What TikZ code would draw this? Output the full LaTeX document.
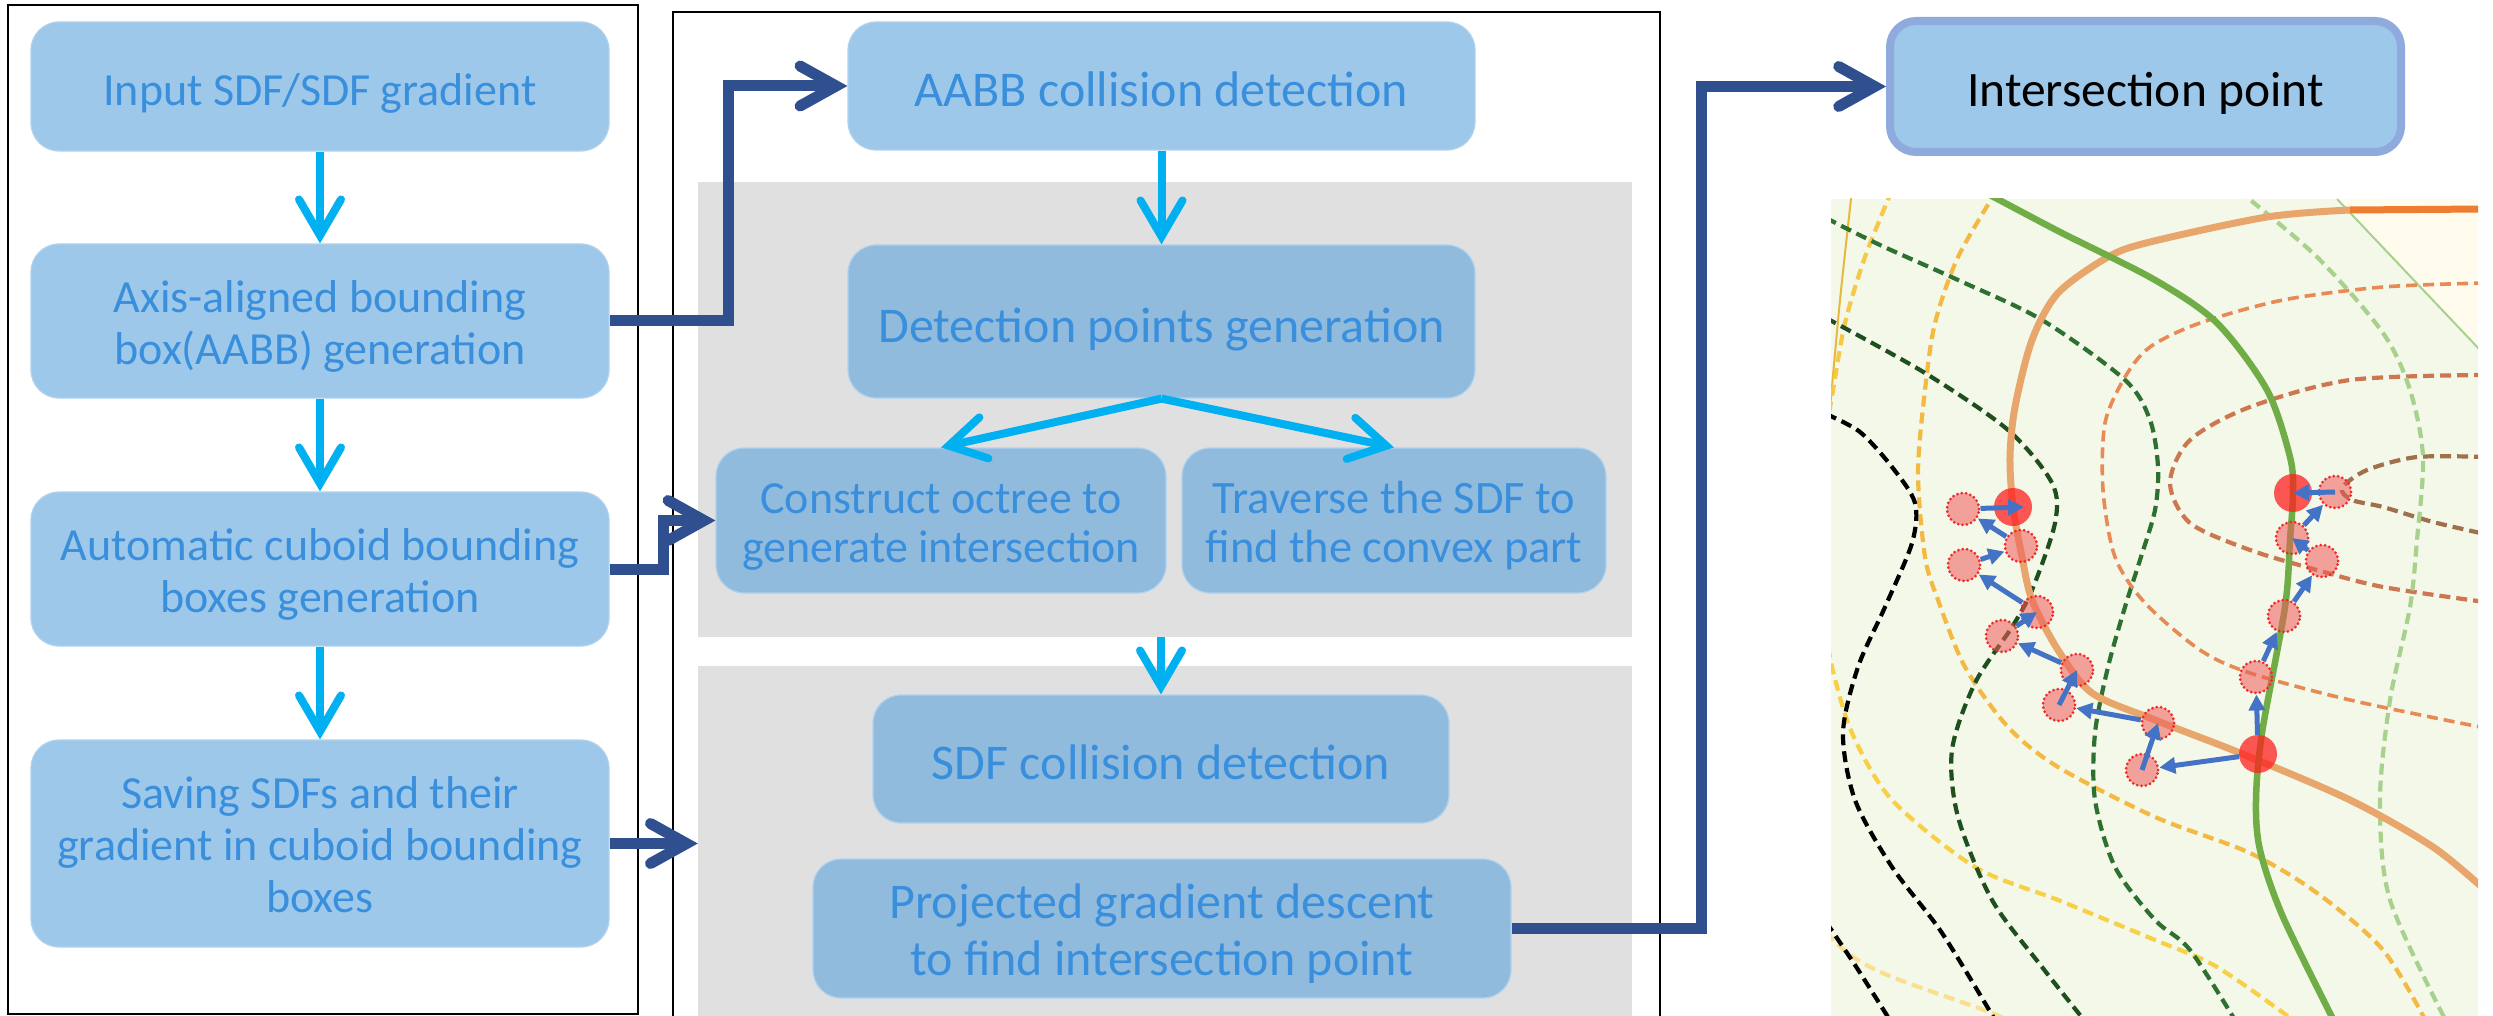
\documentclass[tikz,border=0pt]{standalone}
\usepackage{fontspec}
\setmainfont{Carlito}
\usetikzlibrary{arrows.meta}

\definecolor{boxfill}{RGB}{157,200,233}
\definecolor{boxfillg}{RGB}{145,187,221}
\definecolor{boxedge}{RGB}{176,210,238}
\definecolor{txtblue}{RGB}{58,143,221}
\definecolor{flowcyan}{RGB}{0,176,240}
\definecolor{navy}{RGB}{47,79,143}
\definecolor{panelgray}{RGB}{224,224,224}
\definecolor{ipedge}{RGB}{143,170,220}
\definecolor{plotbg}{RGB}{243,248,233}
\definecolor{plotcream}{RGB}{255,252,238}
\definecolor{gsolid}{RGB}{112,173,71}
\definecolor{osolid}{RGB}{233,166,108}
\definecolor{osolidd}{RGB}{237,125,49}
\definecolor{dgreenA}{RGB}{45,112,48}
\definecolor{dgreenB}{RGB}{31,78,31}
\definecolor{lgreen}{RGB}{169,209,142}
\definecolor{ylwA}{RGB}{245,200,70}
\definecolor{ylwB}{RGB}{244,185,66}
\definecolor{ylwC}{RGB}{248,207,69}
\definecolor{ylwD}{RGB}{249,224,143}
\definecolor{ylwsolid}{RGB}{230,185,60}
\definecolor{orgA}{RGB}{232,138,85}
\definecolor{orgB}{RGB}{204,119,80}
\definecolor{brnC}{RGB}{160,112,74}
\definecolor{gradblue}{RGB}{68,114,196}
\definecolor{dotred}{RGB}{255,32,32}
\definecolor{ptfill}{RGB}{240,90,90}
\definecolor{ptedge}{RGB}{240,40,40}

% uniform line box so that every label sits on the optical centre of its box
\newcommand{\topstrut}{\rule{0pt}{1.1em}}
\newcommand{\botstrut}{\rule[-0.28em]{0pt}{0.28em}}
% taller first line for labels set on several lines
\newcommand{\mlstrut}{\rule{0pt}{1.02em}}

\tikzset{
  lbox/.style={rectangle, rounded corners=28pt, fill=boxfill, draw=boxedge,
    line width=1.2pt, text=txtblue, align=center, inner sep=0pt,
    font=\fontsize{46pt}{52pt}\selectfont,
    execute at begin node=\topstrut, execute at end node=\botstrut},
  mbox/.style={lbox, font=\fontsize{50pt}{50pt}\selectfont},
  gbox/.style={mbox, fill=boxfillg},
  panel/.style={rectangle, fill=panelgray, draw=none, inner sep=0pt},
  frame/.style={draw=black, line width=2pt},
  flow/.style={draw=flowcyan, line width=8pt,
    -{Straight Barb[length=36pt,width=42pt,line cap=round]}},
  link/.style={draw=navy, line width=11pt,
    -{Straight Barb[length=36pt,width=40pt,line cap=round]}},
  ipbox/.style={rectangle, rounded corners=26pt, fill=boxfill, draw=ipedge,
    line width=8pt, text=black, align=center, inner sep=0pt,
    font=\fontsize{49.5pt}{52pt}\selectfont,
    execute at begin node=\topstrut, execute at end node=\botstrut},
  contour/.style={line width=4.2pt, dash pattern=on 11pt off 6pt},
  bigdot/.style={circle, minimum size=38pt, inner sep=0pt, fill=dotred,
    fill opacity=0.75, draw=none},
  ptdot/.style={circle, minimum size=32pt, inner sep=0pt, fill=ptfill,
    fill opacity=0.55, draw=ptedge, draw opacity=1, line width=3pt,
    dash pattern=on 0pt off 4.4pt, line cap=round},
  grad/.style={draw=gradblue, line width=5pt,
    -{Triangle[length=16pt,width=16pt]}},
}

\begin{document}
\begin{tikzpicture}[x=1pt,y=-1pt]
\useasboundingbox (0,0) rectangle (2493,1016);

% outer frames of the two process columns
\draw[frame] (8,5) rectangle (638,1014);
\draw[frame] (673,12) rectangle (1660,1040);

% grey stage panels
\node[panel, minimum width=934pt, minimum height=455pt] (p1) at (1165,409.5) {};
\node[panel, minimum width=934pt, minimum height=380pt] (p2) at (1165,856) {};

% left column
\node[lbox, minimum width=578pt, minimum height=129pt] (b1) at (320,86.5) {Input SDF/SDF gradient};
\node[lbox, minimum width=578pt, minimum height=154pt] (b2) at (320,321) {\mlstrut Axis-aligned bounding\\box(AABB) generation};
\node[lbox, minimum width=578pt, minimum height=154pt] (b3) at (320,569) {\mlstrut Automatic cuboid bounding\\boxes generation};
\node[lbox, minimum width=578pt, minimum height=207pt] (b4) at (320,843.5) {\mlstrut Saving SDFs and their\\gradient in cuboid bounding\\boxes};

% middle column
\node[mbox, minimum width=627pt, minimum height=128pt] (m1) at (1161.5,86) {AABB collision detection};
\node[gbox, minimum width=627pt, minimum height=153pt] (m2) at (1161.5,321.5) {Detection points generation};
\node[gbox, minimum width=450pt, minimum height=145pt, font=\fontsize{46pt}{49pt}\selectfont] (m3) at (941,520.5) {\mlstrut Construct octree to\\generate intersection};
\node[gbox, minimum width=424pt, minimum height=145pt, font=\fontsize{46.5pt}{49pt}\selectfont] (m4) at (1394,520.5) {\mlstrut Traverse the SDF to\\find the convex part};
\node[gbox, minimum width=576pt, minimum height=128pt] (m5) at (1161,759) {SDF collision detection};
\node[gbox, minimum width=698pt, minimum height=139pt, font=\fontsize{50pt}{57pt}\selectfont] (m6) at (1162,928.5) {\mlstrut Projected gradient descent\\to find intersection point};

% result
\node[ipbox, minimum width=511pt, minimum height=131pt] (ip) at (2145.5,86.5) {Intersection point};

% flow arrows
\draw[flow] (b1) -- (b2);
\draw[flow] (b2) -- (b3);
\draw[flow] (b3) -- (b4);
\draw[flow] (m1) -- (m2);
\draw[flow] (m2.south) -- (m3.north);
\draw[flow] (m2.south) -- (m4.north);
\draw[flow] (m5.north |- p1.south) -- (m5.north);

% links between the columns
\coordinate (j1) at (728,0);
\coordinate (j2) at (663,0);
\coordinate (j3) at (1701,0);
\draw[link] (b2.east) -- (b2.east -| j1) -- (m1.west -| j1) -- (m1.west);
\draw[link] (b3.east) -- (b3.east -| j2) -- (m3.west -| j2) -- (m3.west);
\draw[link] (b4.east) -- (b4.east -| p2.west);
\draw[link] (m6.east) -- (m6.east -| j3) -- (ip.west -| j3) -- (ip.west);

% contour plot of the two distance fields
\begin{scope}
\clip (1831,199) rectangle (2478,1016);
\fill[plotbg] (1831,199) rectangle (2478,1016);
\fill[plotcream] (2337,199) -- (2480,350) -- (2480,199) -- cycle;
\draw[lgreen, line width=2pt] (2337,199) -- (2480,350);

\draw[ylwsolid, line width=2pt] plot[smooth] coordinates {(1852,190) (1840,300) (1829,420)};
\draw[contour, ylwA] plot[smooth] coordinates {(1892,190) (1865,257) (1845,323) (1833,390) (1826,430)};
\draw[contour, ylwB] plot[smooth] coordinates {(1997,190) (1958,257) (1935,323) (1925,390) (1918,473) (1925,557) (1938,600) (1965,667) (2008,727) (2058,767) (2155,817) (2250,853) (2317,893) (2383,950) (2428,1025)};
\draw[contour, ylwC] plot[smooth] coordinates {(1826,630) (1832,667) (1852,733) (1892,800) (1975,867) (2058,900) (2155,940) (2217,967) (2300,1025)};
\draw[contour, ylwD] plot[smooth] coordinates {(1826,932) (1850,955) (1892,977) (1992,1013) (2015,1025)};

\draw[contour, black] plot[smooth] coordinates {(1826,414) (1860,432) (1892,467) (1915,503) (1912,543) (1885,607) (1858,667) (1843,733) (1855,800) (1892,867) (1942,933) (1998,1025)};
\draw[contour, black] plot[smooth] coordinates {(1826,922) (1855,965) (1893,1025)};

\draw[contour, dgreenA] plot[smooth] coordinates {(1826,218) (1880,245) (1958,280) (2042,320) (2125,380) (2150,420) (2158,467) (2155,510) (2140,560) (2125,607) (2108,667) (2095,733) (2095,800) (2115,867) (2155,920) (2190,950) (2238,1025)};
\draw[contour, dgreenB] plot[smooth] coordinates {(1826,318) (1925,373) (2008,430) (2052,483) (2055,523) (2032,590) (2012,627) (1975,683) (1952,750) (1958,817) (1992,900) (2042,967) (2088,1025)};

\draw[contour, orgA, line width=3.6pt] plot[smooth] coordinates {(2485,283) (2383,287) (2283,300) (2200,323) (2150,347) (2125,377) (2105,423) (2103,490) (2115,557) (2145,603) (2200,650) (2250,673) (2350,700) (2485,728)};
\draw[contour, orgB] plot[smooth] coordinates {(2485,375) (2350,380) (2250,407) (2190,440) (2170,483) (2190,523) (2250,550) (2317,570) (2383,587) (2485,602)};
\draw[contour, brnC] plot[smooth] coordinates {(2485,457) (2417,457) (2367,470) (2342,488) (2352,500) (2383,507) (2433,522) (2485,534)};
\draw[contour, lgreen] plot[smooth] coordinates {(2238,190) (2317,257) (2383,333) (2410,390) (2423,457) (2417,540) (2410,607) (2390,700) (2380,800) (2390,900) (2448,1025)};

\draw[osolid, line width=7pt] plot[smooth] coordinates {(2350,210) (2267,217) (2150,242) (2108,257) (2058,293) (2032,340) (2015,407) (2010,457) (2013,507) (2022,557) (2032,600) (2058,650) (2092,693) (2155,720) (2240,753) (2350,800) (2433,847) (2485,890)};
\draw[osolidd, line width=7pt] (2350,210) -- (2485,209);
\draw[gsolid, line width=6.5pt] plot[smooth] coordinates {(1990,195) (2060,232) (2155,280) (2217,323) (2267,390) (2290,457) (2293,493) (2290,540) (2285,607) (2262,733) (2256,800) (2260,850) (2283,917) (2336,1025)};
\end{scope}

% detection points and the descent steps
\node[bigdot] (d1) at (2013,507) {};
\node[bigdot] (d2) at (2293,493) {};
\node[bigdot] (d3) at (2258,754) {};
\node[ptdot] (s1) at (1963,509) {};
\node[ptdot] (s2) at (2021,546) {};
\node[ptdot] (s3) at (1964,565) {};
\node[ptdot] (s4) at (2037,612) {};
\node[ptdot] (s5) at (2002,636) {};
\node[ptdot] (s6) at (2077,670) {};
\node[ptdot] (s7) at (2059,705) {};
\node[ptdot] (s8) at (2158,723) {};
\node[ptdot] (s9) at (2142,770) {};
\node[ptdot] (r1) at (2335,492) {};
\node[ptdot] (r2) at (2292,538) {};
\node[ptdot] (r3) at (2322,561) {};
\node[ptdot] (r4) at (2284,616) {};
\node[ptdot] (r5) at (2256,677) {};

\draw[grad] (d3) -- (s9);
\draw[grad] (s9.center) -- (s8.center);
\draw[grad] (s8) -- (s7);
\draw[grad] (s7.center) -- (s6.center);
\draw[grad] (s6) -- (s5);
\draw[grad] (s5) -- (s4.center);
\draw[grad] (s4) -- (s3);
\draw[grad] (s3) -- (s2);
\draw[grad] (s2) -- (s1);
\draw[grad] (s1) -- ([xshift=11pt]d1.center);
\draw[grad] (d3) -- (r5);
\draw[grad] (r5) -- (r4);
\draw[grad] (r4) -- (r3);
\draw[grad] (r3) -- (r2.center);
\draw[grad] (r2) -- (r1);
\draw[grad] (r1.center) -- (d2.center);
\end{tikzpicture}
\end{document}
